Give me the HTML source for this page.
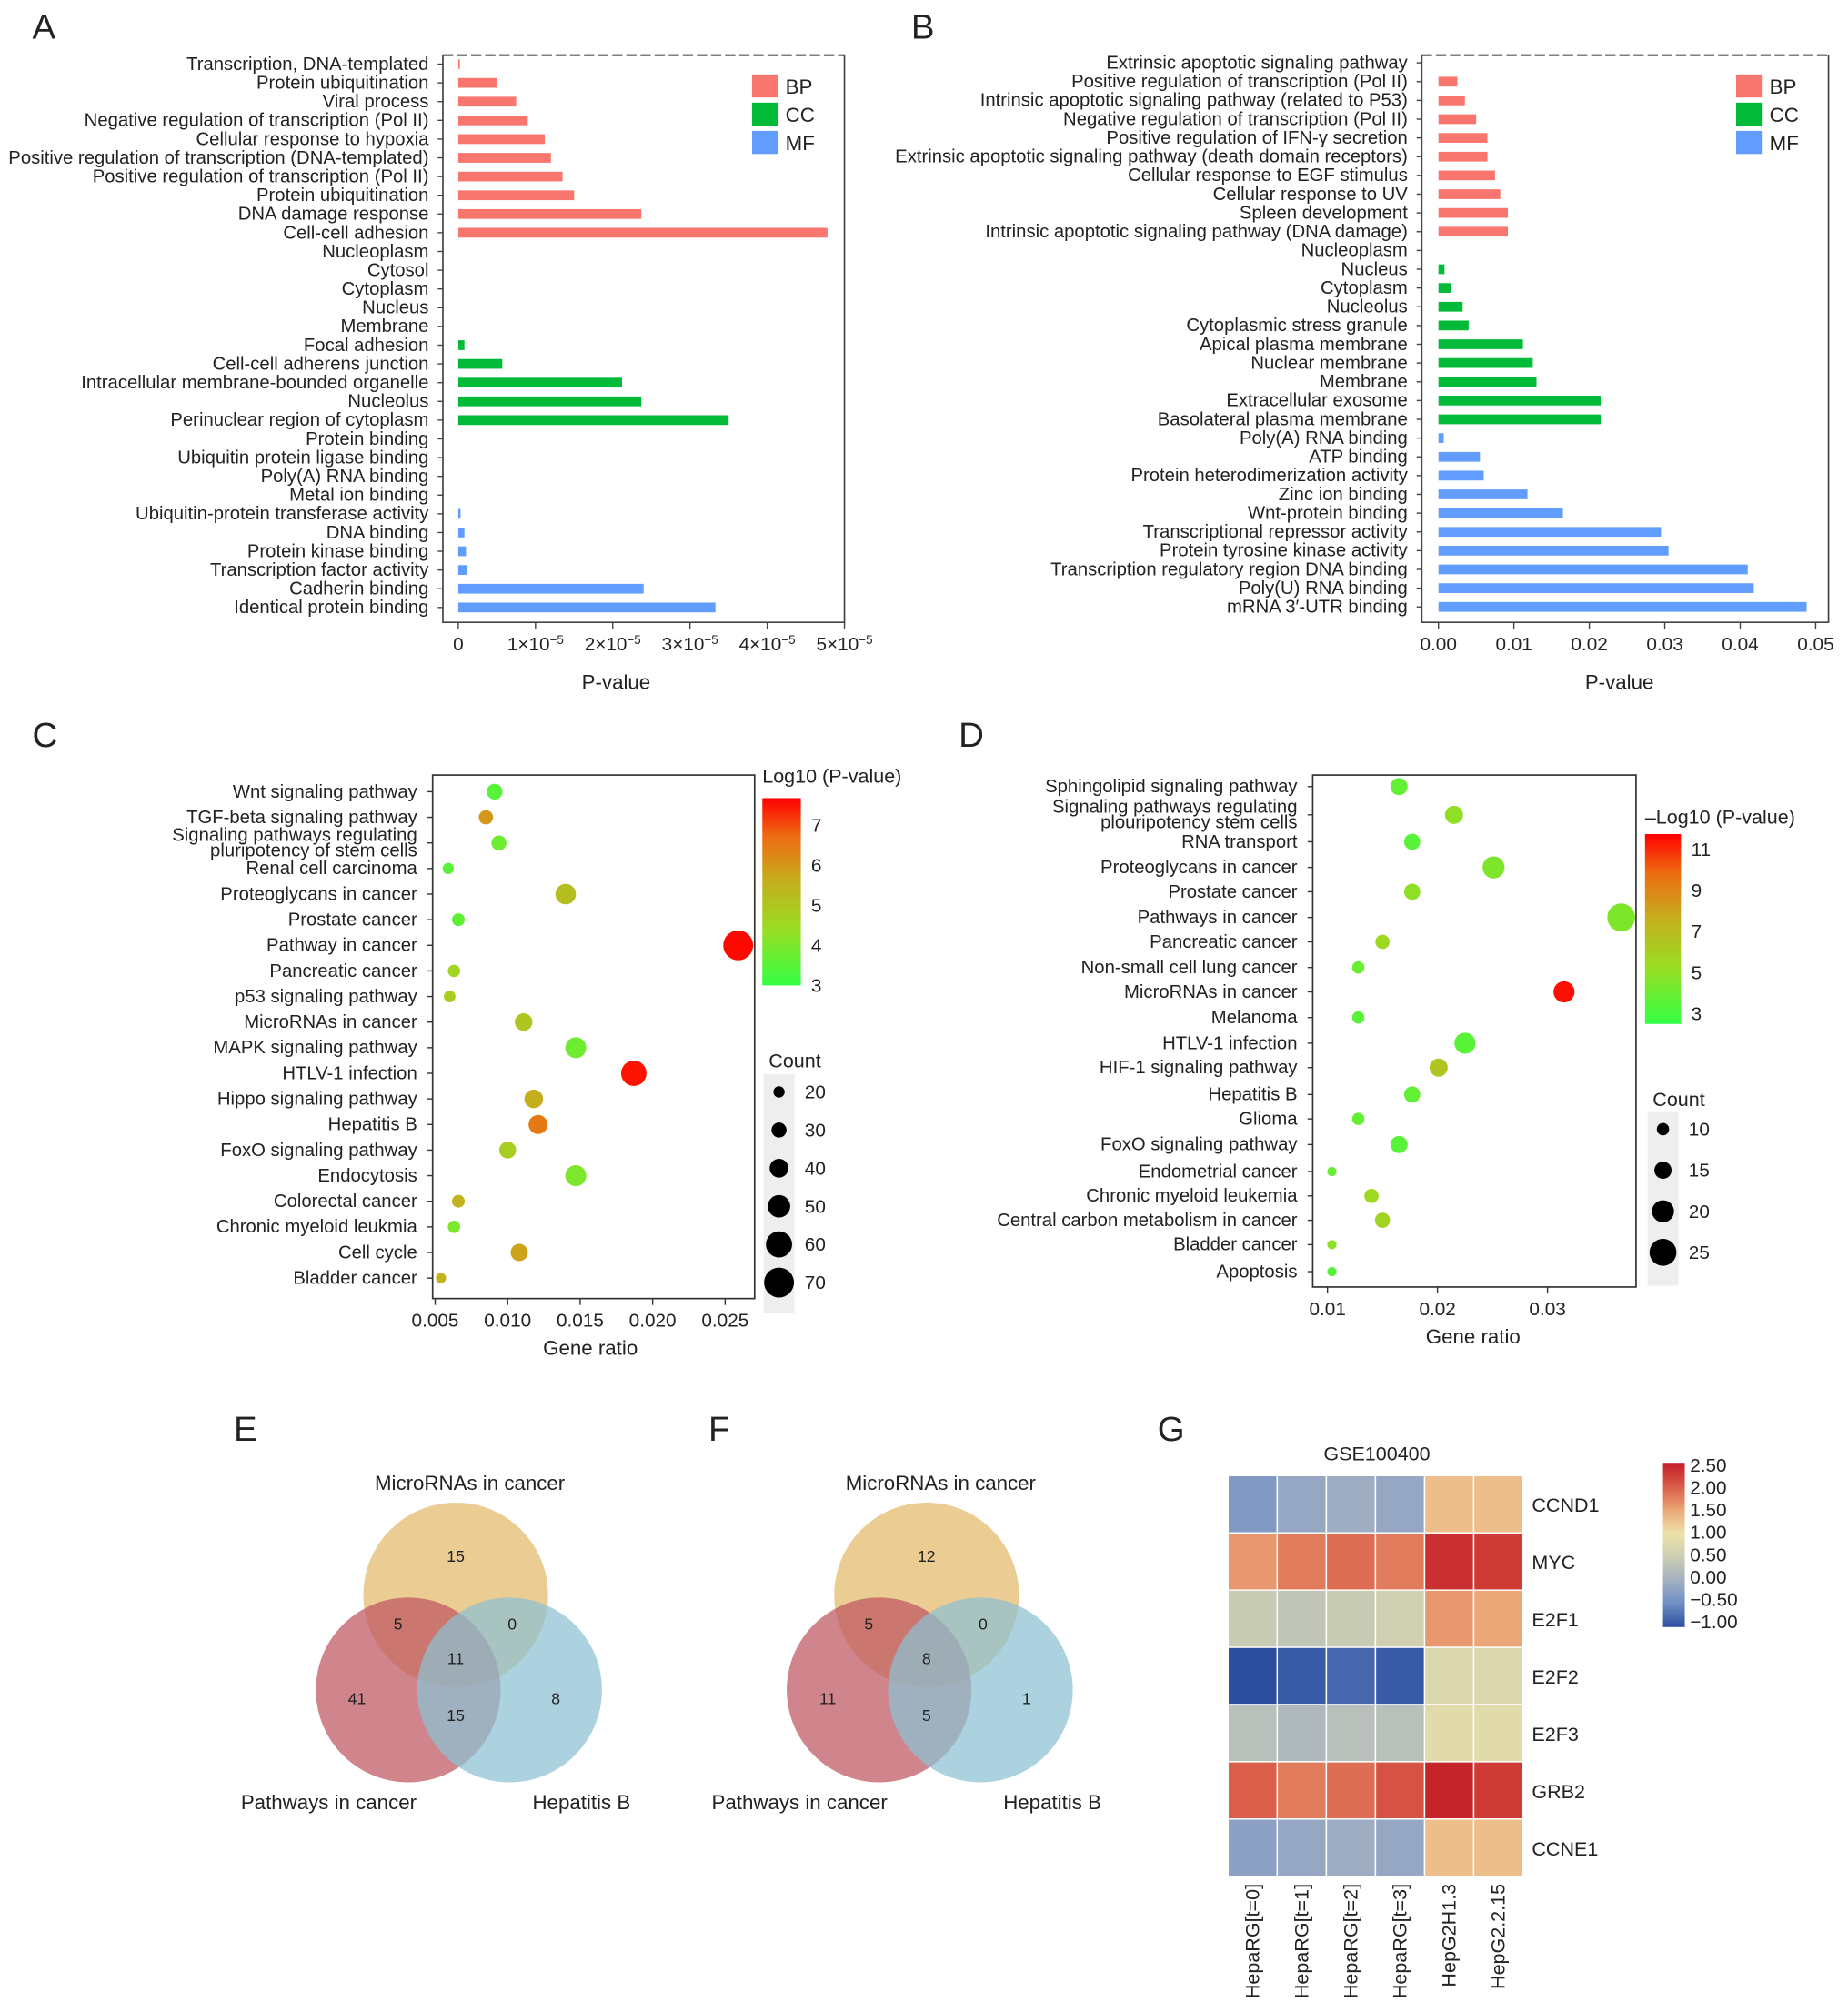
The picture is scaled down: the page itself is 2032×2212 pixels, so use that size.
<!DOCTYPE html>
<html><head><meta charset="utf-8"><style>
html,body{margin:0;padding:0;background:#fff}
svg{display:block}
text{font-family:"Liberation Sans",Arial,sans-serif;fill:#222}
</style></head><body>
<svg id="fig" xmlns="http://www.w3.org/2000/svg" width="2032" height="2212" viewBox="0 0 1440 1568"></svg>
<script>
// ---- Panel A data ----
const aLabels=["Transcription, DNA-templated","Protein ubiquitination","Viral process","Negative regulation of transcription (Pol II)","Cellular response to hypoxia","Positive regulation of transcription (DNA-templated)","Positive regulation of transcription (Pol II)","Protein ubiquitination","DNA damage response","Cell-cell adhesion","Nucleoplasm","Cytosol","Cytoplasm","Nucleus","Membrane","Focal adhesion","Cell-cell adherens junction","Intracellular membrane-bounded organelle","Nucleolus","Perinuclear region of cytoplasm","Protein binding","Ubiquitin protein ligase binding","Poly(A) RNA binding","Metal ion binding","Ubiquitin-protein transferase activity","DNA binding","Protein kinase binding","Transcription factor activity","Cadherin binding","Identical protein binding"];
const aValues=[0.02,0.5,0.75,0.9,1.12,1.2,1.35,1.5,2.37,4.78,0,0,0,0,0,0.08,0.57,2.12,2.37,3.5,0,0,0,0,0.03,0.08,0.1,0.12,2.4,3.33];
const aTicks=[0,1,2,3,4,5];
// ---- Panel B data ----
const bLabels=["Extrinsic apoptotic signaling pathway","Positive regulation of transcription (Pol II)","Intrinsic apoptotic signaling pathway (related to P53)","Negative regulation of transcription (Pol II)","Positive regulation of IFN-γ secretion","Extrinsic apoptotic signaling pathway (death domain receptors)","Cellular response to EGF stimulus","Cellular response to UV","Spleen development","Intrinsic apoptotic signaling pathway (DNA damage)","Nucleoplasm","Nucleus","Cytoplasm","Nucleolus","Cytoplasmic stress granule","Apical plasma membrane","Nuclear membrane","Membrane","Extracellular exosome","Basolateral plasma membrane","Poly(A) RNA binding","ATP binding","Protein heterodimerization activity","Zinc ion binding","Wnt-protein binding","Transcriptional repressor activity","Protein tyrosine kinase activity","Transcription regulatory region DNA binding","Poly(U) RNA binding","mRNA 3′-UTR binding"];
const bValues=[0,0.0025,0.0035,0.005,0.0065,0.0065,0.0075,0.0082,0.0092,0.0092,0,0.0008,0.0017,0.0032,0.004,0.0112,0.0125,0.013,0.0215,0.0215,0.0007,0.0055,0.006,0.0118,0.0165,0.0295,0.0305,0.041,0.0418,0.0488];
const bTicks=[0,0.01,0.02,0.03,0.04,0.05];
const categories=["BP","CC","MF"];
// ---- Panel C data ----
const cLabels=["Wnt signaling pathway","TGF-beta signaling pathway","Signaling pathways regulating|pluripotency of stem cells","Renal cell carcinoma","Proteoglycans in cancer","Prostate cancer","Pathway in cancer","Pancreatic cancer","p53 signaling pathway","MicroRNAs in cancer","MAPK signaling pathway","HTLV-1 infection","Hippo signaling pathway","Hepatitis B","FoxO signaling pathway","Endocytosis","Colorectal cancer","Chronic myeloid leukmia","Cell cycle","Bladder cancer"];
const cRatio=[0.0091,0.0085,0.0094,0.0059,0.014,0.0066,0.0259,0.0063,0.006,0.0111,0.0147,0.0187,0.0118,0.0121,0.01,0.0147,0.0066,0.0063,0.0108,0.0054];
const cLogP=[3.5,6.0,3.8,3.5,5.2,3.6,7.6,4.6,4.8,5.0,3.8,7.5,5.6,6.5,4.8,4.0,5.5,4.0,5.8,5.5];
const cCount=[32,28,30,20,45,24,70,23,21,37,46,58,40,41,35,46,24,23,36,17];
const cTicks=[0.005,0.01,0.015,0.02,0.025];
const cCbTicks=[3,4,5,6,7];
const cCountLegend=[20,30,40,50,60,70];
// ---- Panel D data ----
const dLabels=["Sphingolipid signaling pathway","Signaling pathways regulating|plouripotency stem cells","RNA transport","Proteoglycans in cancer","Prostate cancer","Pathways in cancer","Pancreatic cancer","Non-small cell lung cancer","MicroRNAs in cancer","Melanoma","HTLV-1 infection","HIF-1 signaling pathway","Hepatitis B","Glioma","FoxO signaling pathway","Endometrial cancer","Chronic myeloid leukemia","Central carbon metabolism in cancer","Bladder cancer","Apoptosis"];
const dRatio=[0.0165,0.0215,0.0177,0.0251,0.0177,0.0367,0.015,0.0128,0.0315,0.0128,0.0225,0.0201,0.0177,0.0128,0.0165,0.0104,0.014,0.015,0.0104,0.0104];
const dLogP=[3.8,5.0,3.5,4.5,5.0,4.5,5.5,4.0,11.5,3.5,3.5,6.5,3.8,3.8,3.5,4.0,5.5,5.8,5.0,3.5];
const dCount=[15,16,14,20,14,26,12,10,19,10,19,16,14,10,15,7,12,13,7,7];
const dTicks=[0.01,0.02,0.03];
const dCbTicks=[3,5,7,9,11];
const dCountLegend=[10,15,20,25];
// ---- Heatmap data ----
const hmRows=["CCND1","MYC","E2F1","E2F2","E2F3","GRB2","CCNE1"];
const hmCols=["HepaRG[t=0]","HepaRG[t=1]","HepaRG[t=2]","HepaRG[t=3]","HepG2H1.3","HepG2.2.15"];
const hmValues=[[-0.4,-0.2,-0.1,-0.2,1.3,1.3],[1.6,1.8,1.9,1.8,2.4,2.3],[0.4,0.3,0.4,0.5,1.6,1.5],[-1.1,-1.0,-0.9,-1.0,0.7,0.7],[0.2,0.1,0.2,0.2,0.8,0.8],[2.0,1.8,1.9,2.1,2.5,2.3],[-0.3,-0.2,-0.1,-0.2,1.3,1.3]];
const hmTicks=["2.50","2.00","1.50","1.00","0.50","0.00","−0.50","−1.00"];

const FS=1.09;
const NS="http://www.w3.org/2000/svg";
const svg=document.getElementById('fig');
function el(tag,attrs,parent){const e=document.createElementNS(NS,tag);for(const k in attrs)e.setAttribute(k,attrs[k]);(parent||svg).appendChild(e);return e;}
function txt(x,y,s,size,anchor,parent){const t=el('text',{x:x,y:y,'font-size':(size||13)*FS,'text-anchor':anchor||'start'},parent);t.textContent=s;return t;}
const defs=el('defs',{});
const catColors=["#F8766D","#00BA38","#619CFF"];

// panel letters
[["A",25,30],["B",710,30],["C",25,582],["D",747,582],["E",182,1123],["F",552,1123],["G",902,1123]].forEach(p=>{
  const t=txt(p[1],p[2],p[0],25);
  
  
});

function barPanel(key,labels,values,ticks,x0,x1,vmax,boxL,boxR,y0,step,tickFmt,axisLabelX){
  const g=el('g',{});
  
  
  const sx=v=>x0+(x1-x0)*v/vmax;
  const top=43,bot=485;
  const border=el('path',{d:`M${boxL},${top} L${boxR},${top}`,stroke:'#555','stroke-dasharray':'8,3','stroke-width':1.5,fill:'none'},g);
  
  
  const fr=el('path',{d:`M${boxR},${top} L${boxR},${bot} L${boxL},${bot} L${boxL},${top}`,stroke:'#444','stroke-width':1.2,fill:'none'},g);
  
  
  labels.forEach((lab,i)=>{
    const y=y0+i*step;
    const t=txt(boxL-11,y+4.5,lab,13.2,'end',g);
    
    
    el('line',{x1:boxL-4,x2:boxL,y1:y,y2:y,stroke:'#444'},g);
    const c=catColors[Math.floor(i/10)];
    const w=Math.max(0,sx(values[i])-sx(0));
    const r=el('rect',{x:sx(0),y:y-3.8,width:w,height:7.6,fill:c},g);
    
    
  });
  ticks.forEach((tv,i)=>{
    const x=sx(tv);
    el('line',{x1:x,x2:x,y1:bot,y2:bot+5,stroke:'#444'},g);
    const t=tickFmt(x,bot+22,tv,g);
    
    
  });
  const xl=txt(axisLabelX,bot+52,'P-value',14.5,'middle',g);
  
  
  categories.forEach((c,i)=>{
    const r=el('rect',{x:boxR-72,y:58+i*22,width:20,height:18,fill:catColors[i]},g);
    
    
    const t=txt(boxR-46,73+i*22,c,14.5,'start',g);
    
    
  });
}
barPanel('a',aLabels,aValues,aTicks,357,658,5,345,658,50,14.6,(x,y,v,g)=>{
  const t=el('text',{x:x,y:y,'font-size':13.5*FS,'text-anchor':'middle'},g);
  if(v===0){t.textContent='0';}else{t.textContent=v+'×10';const s=el('tspan',{'baseline-shift':'super','font-size':9.5},t);s.textContent='−5';}
  return t;
},480);
barPanel('b',bLabels,bValues,bTicks,1121,1415,0.05,1108,1425,49,14.62,(x,y,v,g)=>txt(x,y,v===0?'0.00':v.toFixed(2),13.5,'middle',g),1262);

function lerpC(a,b,t){const pa=a.match(/\w\w/g).map(h=>parseInt(h,16)),pb=b.match(/\w\w/g).map(h=>parseInt(h,16));return 'rgb('+pa.map((v,i)=>Math.round(v+(pb[i]-v)*t)).join(',')+')';}
const bubStops=[[0,'33ff44'],[0.3,'99dd22'],[0.55,'c4b01e'],[0.8,'ee6a11'],[1,'ff0000']];
function scaleColor(stops,t){t=Math.max(0,Math.min(1,t));for(let i=1;i<stops.length;i++){if(t<=stops[i][0]){const f=(t-stops[i-1][0])/(stops[i][0]-stops[i-1][0]);return lerpC(stops[i-1][1],stops[i][1],f);}}return '#'+stops[stops.length-1][1];}
function mkGrad(id,stops){const lg=el('linearGradient',{id:id,x1:0,y1:1,x2:0,y2:0},defs);stops.forEach(s=>el('stop',{offset:s[0],'stop-color':'#'+s[1]},lg));}
mkGrad('bubgrad',bubStops);

function bubblePanel(key,labels,ratio,logp,count,ticks,cfg){
  const g=el('g',{});
  
  
  const sx=v=>cfg.xa+(v-cfg.va)*(cfg.xb-cfg.xa)/(cfg.vb-cfg.va);
  const fr=el('rect',{x:cfg.L,y:cfg.T,width:cfg.R-cfg.L,height:cfg.B-cfg.T,fill:'none',stroke:'#333','stroke-width':1.2},g);
  
  
  labels.forEach((lab,i)=>{
    const y=cfg.ys[i];
    const parts=lab.split('|');
    parts.forEach((p,j)=>{
      const t=txt(cfg.L-12,y+4.5+(j-(parts.length-1)/2)*12,p,13.2,'end',g);
      
      
    });
    el('line',{x1:cfg.L-4,x2:cfg.L,y1:y,y2:y,stroke:'#333'},g);
    const c=el('circle',{cx:sx(ratio[i]),cy:y,r:cfg.rad(count[i]),fill:scaleColor(bubStops,(logp[i]-cfg.cmin)/(cfg.cmax-cfg.cmin))},g);
    
    
  });
  ticks.forEach(tv=>{
    const x=sx(tv);
    el('line',{x1:x,x2:x,y1:cfg.B,y2:cfg.B+5,stroke:'#333'},g);
    const t=txt(x,cfg.B+22,String(tv.toFixed(cfg.dec)),13.5,'middle',g);
    
    
  });
  const xl=txt(cfg.xlX,cfg.B+44,'Gene ratio',14.5,'middle',g);
  
  
  const ct=txt(cfg.cbTitleX,cfg.cbTitleY,cfg.cbTitle,14,'start',g);
  
  
  const cb=el('rect',{x:cfg.cbX,y:cfg.cbT,width:cfg.cbW,height:cfg.cbB-cfg.cbT,fill:'url(#bubgrad)'},g);
  
  
  const cy=v=>cfg.cbB-(v-cfg.cmin)/(cfg.cmax-cfg.cmin)*(cfg.cbB-cfg.cbT);
  cfg.cbTicks.forEach(v=>{
    el('line',{x1:cfg.cbX+cfg.cbW,x2:cfg.cbX+cfg.cbW+4,y1:cy(v),y2:cy(v),stroke:'#fff'},g);
    const t=txt(cfg.cbX+cfg.cbW+8,cy(v)+5,String(v),13.5,'start',g);
    
    
  });
  const lt=txt(cfg.clX-8,cfg.clTitleY,'Count',14,'start',g);
  
  
  el('rect',{x:cfg.clX-12,y:cfg.clY0-14,width:24,height:cfg.clStep*cfg.cl.length+8,fill:'#eee'},g);
  cfg.cl.forEach((v,i)=>{
    const y=cfg.clY0+i*cfg.clStep;
    const c=el('circle',{cx:cfg.clX,cy:y,r:cfg.rad(v),fill:'#000'},g);
    
    
    const t=txt(cfg.clX+20,y+5,String(v),13.5,'start',g);
    
    
  });
}
bubblePanel('c',cLabels,cRatio,cLogP,cCount,cTicks,{
  L:337,R:588,T:604,B:1012,xa:339,va:0.005,xb:565,vb:0.025,dec:3,xlX:460,
  ys:cLabels.map((_,i)=>617+i*19.95),rad:c=>1.5+c*0.145,cmin:3,cmax:7.68,
  cbX:594,cbW:30,cbT:622,cbB:768,cbTicks:cCbTicks,cbTitle:'Log10 (P-value)',cbTitleX:594,cbTitleY:610,
  clX:607,clY0:851,clStep:29.7,cl:cCountLegend,clTitleY:832
});
bubblePanel('d',dLabels,dRatio,dLogP,dCount,dTicks,{
  L:1023,R:1275,T:604,B:1003,xa:1034.5,va:0.01,xb:1206,vb:0.03,dec:2,xlX:1148,
  ys:[613,635,656,676,695,715,734,754,773,793,813,832,853,872,892,913,932,951,970,991],rad:c=>1+c*0.38,cmin:2.5,cmax:11.75,
  cbX:1282,cbW:28,cbT:650,cbB:798,cbTicks:dCbTicks,cbTitle:'–Log10 (P-value)',cbTitleX:1282,cbTitleY:642,
  clX:1296,clY0:880,clStep:32,cl:dCountLegend,clTitleY:862
});

function venn(key,dx,nums){
  const g=el('g',{});
  
  
  const circ=[[355,1243,'#E3B86A','microrna-circle'],[318,1317,'#BE5560','pathways-circle'],[397,1317,'#8CC0D2','hepatitis-circle']];
  circ.forEach(c=>{
    const e=el('circle',{cx:c[0]+dx,cy:c[1],r:72,fill:c[2],'fill-opacity':0.72},g);
    
    
  });
  const pos=[[355,1217],[310,1270],[399,1270],[355,1297],[278,1328],[355,1341],[433,1328]];
  pos.forEach((p,i)=>{
    const t=el('text',{x:p[0]+dx,y:p[1],'font-size':12.5,'text-anchor':'middle','font-family':'Liberation Serif,serif'},g);
    t.textContent=nums[i];
    
    
  });
  [[366,1161,'MicroRNAs in cancer','middle'],[256,1410,'Pathways in cancer','middle'],[453,1410,'Hepatitis B','middle']].forEach(l=>{
    const t=txt(l[0]+dx,l[1],l[2],14.5,l[3],g);
    
    
  });
}
venn('e',0,[15,5,0,11,41,15,8]);
venn('f',367,[12,5,0,8,11,5,1]);

const hmStops=[[0,'2C4E9F'],[0.143,'6F8EC4'],[0.286,'A3B0C2'],[0.4,'C6C9B5'],[0.571,'EDE2A8'],[0.714,'EAA676'],[0.857,'D95A48'],[1,'C41E28']];
(function(){
  const g=el('g',{});
  
  
  const x0=957,y0=1150,cw=38.3,rh=44.6,vmin=-1.1,vmax=2.55;
  const tt=txt(1073,1138,'GSE100400',14,'middle',g);
  
  
  hmValues.forEach((row,i)=>{
    row.forEach((v,j)=>{
      const r=el('rect',{x:x0+j*cw,y:y0+i*rh,width:cw,height:rh,fill:scaleColor(hmStops,(v-vmin)/(vmax-vmin)),stroke:'#fff','stroke-width':1},g);
      
      
    });
    const t=txt(x0+6*cw+7,y0+i*rh+rh/2+6,hmRows[i],14,'start',g);
    
    
  });
  hmCols.forEach((c,j)=>{
    const x=x0+j*cw+cw/2+5;
    const t=el('text',{x:x,y:1468,'font-size':14*FS,'text-anchor':'end',transform:`rotate(-90 ${x} 1468)`},g);
    t.textContent=c;
    
    
  });
  const lg=el('linearGradient',{id:'hmgrad',x1:0,y1:1,x2:0,y2:0},defs);
  hmStops.forEach(s=>el('stop',{offset:s[0],'stop-color':'#'+s[1]},lg));
  const cb=el('rect',{x:1296,y:1140,width:17,height:128,fill:'url(#hmgrad)'},g);
  
  
  hmTicks.forEach((s,i)=>{
    const t=txt(1317,1147+i*17.4,s,13.5,'start',g);
    
    
  });
})();
</script>
</body></html>
